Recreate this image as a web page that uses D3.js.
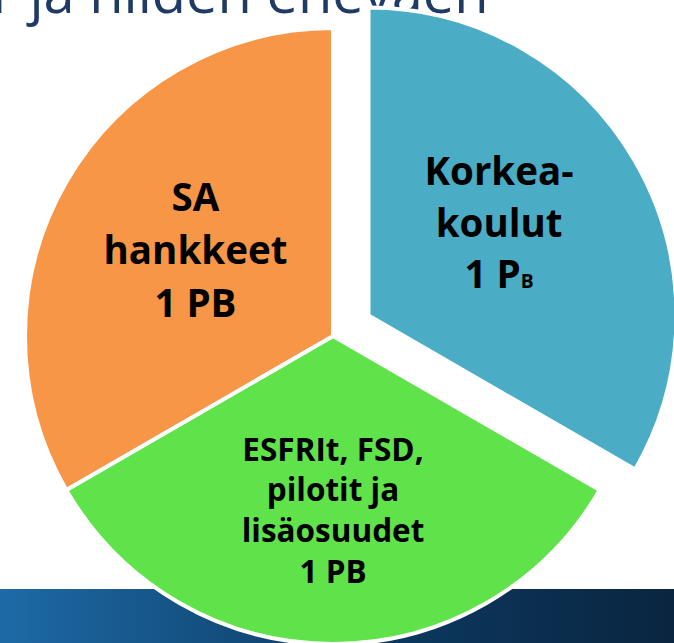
<!DOCTYPE html>
<html>
<head>
<meta charset="utf-8">
<script src="https://cdn.jsdelivr.net/npm/d3@7.8.5/dist/d3.min.js"></script>
<style>
  html, body { margin: 0; padding: 0; background: #fff; }
  svg { display: block; }
</style>
</head>
<body>
<div id="chart"></div>
<script>
// data
const categories = ["Korkeakoulut", "ESFRIt, FSD, pilotit ja lisäosuudet", "SA hankkeet"]
const values = [1, 1, 1]
const labelLines = [
  ["Korkea-", "koulut", "1 P|B"],
  ["ESFRIt, FSD,", "pilotit ja", "lisäosuudet", "1 PB"],
  ["SA", "hankkeet", "1 PB"]
]
const sliceColors = ["#4BACC6", "#5FE24A", "#F79646"]
const explode = [41, 0, 0]
const titleText = "r ja niiden ehevaen"

const width = 674, height = 643
const cx = 333, cy = 336
const radius = 308

const svg = d3.select("#chart").append("svg")
  .attr("width", width)
  .attr("height", height)

// bottom band
const grad = svg.append("defs").append("linearGradient")
  .attr("id", "band").attr("x1", 0).attr("x2", 1).attr("y1", 0).attr("y2", 0)
grad.append("stop").attr("offset", "0%").attr("stop-color", "#1E6AA6")
grad.append("stop").attr("offset", "55%").attr("stop-color", "#0C3A62")
grad.append("stop").attr("offset", "100%").attr("stop-color", "#0A2540")

svg.append("rect")
  .attr("x", 0).attr("y", 589)
  .attr("width", width).attr("height", height - 589)
  .attr("fill", "url(#band)")

// title (cut off at top)
svg.append("text")
  .attr("x", -8).attr("y", 13)
  .attr("font-family", "'Open Sans', sans-serif")
  .attr("font-size", 56)
  .attr("fill", "#1F3A64")
  .text(titleText)

const pie = d3.pie().sort(null).startAngle(0).endAngle(2 * Math.PI)
const arcs = pie(values)
const arc = d3.arc().innerRadius(0).outerRadius(radius)

const g = svg.append("g").attr("transform", `translate(${cx},${cy})`)

const offset = (d, i) => {
  const a = (d.startAngle + d.endAngle) / 2
  return [Math.sin(a) * explode[i], -Math.cos(a) * explode[i]]
}

g.selectAll("path.slice")
  .data(arcs)
  .join("path")
    .attr("class", "slice")
    .attr("transform", (d, i) => `translate(${offset(d, i)})`)
    .attr("d", arc)
    .attr("fill", (d, i) => sliceColors[i])
    .attr("stroke", "#fff")
    .attr("stroke-width", 4)
    .attr("stroke-linejoin", "round")

// labels
const labelArc = d3.arc().innerRadius(0).outerRadius(320)
const fontSizes = [38.5, 31.5, 38.5]
const lineHeights = [51.5, 40.7, 53]
const nudge = [[-8, -13], [0, 14], [1, -6]]

arcs.forEach((d, i) => {
  const [ox, oy] = offset(d, i)
  const [lx, ly] = labelArc.centroid(d)
  const x = lx + ox + nudge[i][0]
  const y = ly + oy + nudge[i][1]
  const lines = labelLines[i]
  const fs = fontSizes[i], lh = lineHeights[i]
  const firstBase = y - (lines.length - 1) * lh / 2 + fs * 0.37
  const t = g.append("text")
    .attr("text-anchor", "middle")
    .attr("font-family", "'Open Sans', sans-serif")
    .attr("font-weight", 700)
    .attr("font-size", fs)
    .attr("fill", "#000")
  lines.forEach((line, j) => {
    const parts = line.split("|")
    t.append("tspan").attr("x", x).attr("y", firstBase + j * lh).text(parts[0])
    if (parts[1]) {
      t.append("tspan").attr("font-size", fs * 0.5).text(parts[1])
    }
  })
})
</script>
</body>
</html>
